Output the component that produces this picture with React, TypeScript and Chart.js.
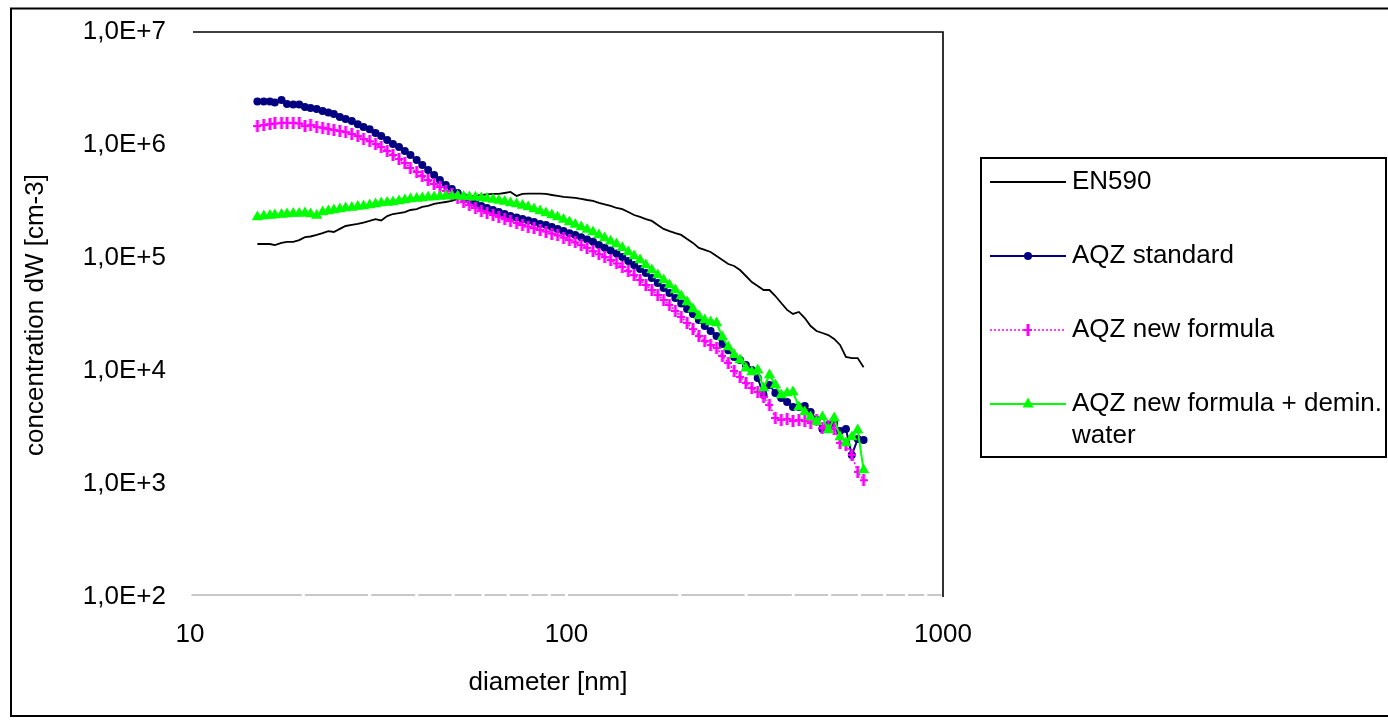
import React, { useEffect, useRef } from 'react';
import { Chart, registerables } from 'chart.js';

Chart.register(...registerables);

// diameter channels [nm]
const diameters = [
  15.1, 15.7, 16.3, 16.8, 17.5, 18.1, 18.8, 19.5, 20.2, 20.9,
  21.7, 22.5, 23.3, 24.1, 25.0, 25.9, 26.9, 27.9, 28.9, 30.0,
  31.1, 32.2, 33.4, 34.6, 35.9, 37.2, 38.5, 40.0, 41.4, 42.9,
  44.5, 46.1, 47.8, 49.6, 51.4, 53.3, 55.2, 57.3, 59.4, 61.5,
  63.8, 66.1, 68.5, 71.0, 73.7, 76.4, 79.1, 82.0, 85.1, 88.2,
  91.4, 94.7, 98.2, 101.8, 105.5, 109.4, 113.4, 117.6, 121.9, 126.3,
  131.0, 135.8, 140.7, 145.9, 151.2, 156.8, 162.5, 168.5, 174.7, 181.1,
  187.7, 194.6, 201.7, 209.1, 216.7, 224.7, 232.9, 241.4, 250.3, 259.5,
  269.0, 278.8, 289.0, 299.6, 310.6, 322.0, 333.8, 346.0, 358.7, 371.8,
  385.4, 399.5, 414.2, 429.4, 445.1, 461.4, 478.3, 495.8, 514.0, 532.8,
  552.3, 572.5, 593.5, 615.3,
];

const en590 = [
  1.33e5, 1.33e5, 1.33e5, 1.30e5, 1.36e5, 1.39e5, 1.39e5, 1.44e5, 1.53e5, 1.55e5,
  1.60e5, 1.66e5, 1.73e5, 1.70e5, 1.81e5, 1.92e5, 1.96e5, 2.00e5, 2.06e5, 2.13e5,
  2.21e5, 2.15e5, 2.35e5, 2.45e5, 2.50e5, 2.55e5, 2.66e5, 2.71e5, 2.83e5, 2.89e5,
  3.01e5, 3.07e5, 3.13e5, 3.20e5, 3.33e5, 3.44e5, 3.51e5, 3.54e5, 3.61e5, 3.65e5,
  3.69e5, 3.69e5, 3.76e5, 3.84e5, 3.54e5, 3.69e5, 3.72e5, 3.72e5, 3.72e5, 3.69e5,
  3.61e5, 3.54e5, 3.47e5, 3.44e5, 3.40e5, 3.33e5, 3.26e5, 3.20e5, 3.07e5, 2.98e5,
  2.89e5, 2.77e5, 2.71e5, 2.55e5, 2.40e5, 2.31e5, 2.21e5, 2.13e5, 1.96e5, 1.81e5,
  1.73e5, 1.66e5, 1.60e5, 1.47e5, 1.36e5, 1.23e5, 1.18e5, 1.13e5, 1.04e5, 9.60e4,
  8.85e4, 8.50e4, 7.83e4, 6.93e4, 6.13e4, 5.65e4, 5.21e4, 5.21e4, 4.61e4, 4.00e4,
  3.47e4, 3.20e4, 3.33e4, 2.94e4, 2.50e4, 2.26e4, 2.17e4, 2.08e4, 1.92e4, 1.70e4,
  1.33e4, 1.30e4, 1.30e4, 1.08e4,
];

const aqzStandard = [
  2.43e6, 2.43e6, 2.43e6, 2.38e6, 2.50e6, 2.31e6, 2.28e6, 2.28e6, 2.17e6, 2.13e6,
  2.08e6, 2.00e6, 1.94e6, 1.88e6, 1.77e6, 1.70e6, 1.63e6, 1.53e6, 1.44e6, 1.375e6,
  1.28e6, 1.20e6, 1.11e6, 1.02e6, 9.6e5, 8.85e5, 8.16e5, 7.37e5, 6.65e5, 6.01e5,
  5.43e5, 4.90e5, 4.43e5, 4.08e5, 3.76e5, 3.47e5, 3.26e5, 3.07e5, 2.89e5, 2.77e5,
  2.66e5, 2.55e5, 2.45e5, 2.35e5, 2.28e5, 2.21e5, 2.15e5, 2.08e5, 2.00e5, 1.96e5,
  1.88e5, 1.81e5, 1.73e5, 1.66e5, 1.60e5, 1.53e5, 1.455e5, 1.39e5, 1.30e5, 1.23e5,
  1.165e5, 1.095e5, 1.02e5, 9.41e4, 8.67e4, 7.99e4, 7.37e4, 6.65e4, 6.01e4, 5.43e4,
  4.90e4, 4.43e4, 3.96e4, 3.54e4, 3.20e4, 2.83e4, 2.50e4, 2.26e4, 2.04e4, 1.73e4,
  1.53e4, 1.33e4, 1.25e4, 1.13e4, 1.02e4, 8.67e3, 6.13e3, 7.52e3, 6.39e3, 5.77e3,
  5.32e3, 4.80e3, 4.80e3, 4.90e3, 4.34e3, 3.69e3, 3.07e3, 3.33e3, 3.47e3, 2.94e3,
  3.07e3, 1.81e3, 2.50e3, 2.45e3,
];

const aqzNewFormula = [
  1.47e6, 1.50e6, 1.53e6, 1.55e6, 1.57e6, 1.57e6, 1.57e6, 1.55e6, 1.47e6, 1.50e6,
  1.44e6, 1.42e6, 1.39e6, 1.36e6, 1.33e6, 1.30e6, 1.25e6, 1.20e6, 1.13e6, 1.08e6,
  1.02e6, 9.60e5, 8.85e5, 8.16e5, 7.52e5, 6.93e5, 6.26e5, 5.77e5, 5.32e5, 4.90e5,
  4.52e5, 4.25e5, 3.92e5, 3.69e5, 3.40e5, 3.13e5, 2.94e5, 2.77e5, 2.61e5, 2.50e5,
  2.40e5, 2.31e5, 2.21e5, 2.13e5, 2.04e5, 1.96e5, 1.90e5, 1.84e5, 1.77e5, 1.715e5,
  1.645e5, 1.585e5, 1.515e5, 1.44e5, 1.375e5, 1.30e5, 1.23e5, 1.15e5, 1.08e5, 1.02e5,
  9.60e4, 8.94e4, 8.33e4, 7.67e4, 7.07e4, 6.39e4, 5.77e4, 5.21e4, 4.71e4, 4.25e4,
  3.84e4, 3.40e4, 3.01e4, 2.66e4, 2.35e4, 2.04e4, 1.84e4, 1.70e4, 1.60e4, 1.36e4,
  1.18e4, 1.00e4, 8.85e3, 7.83e3, 7.07e3, 6.52e3, 5.89e3, 5.00e3, 3.84e3, 3.69e3,
  3.76e3, 3.61e3, 3.69e3, 3.61e3, 3.47e3, 3.69e3, 3.13e3, 3.26e3, 3.07e3, 2.31e3,
  2.21e3, 1.81e3, 1.28e3, 1.08e3,
];

const aqzNewFormulaDemin = [
  2.31e5, 2.35e5, 2.38e5, 2.40e5, 2.43e5, 2.45e5, 2.48e5, 2.48e5, 2.50e5, 2.45e5,
  2.38e5, 2.55e5, 2.61e5, 2.66e5, 2.71e5, 2.77e5, 2.80e5, 2.86e5, 2.89e5, 2.94e5,
  3.01e5, 3.07e5, 3.10e5, 3.13e5, 3.20e5, 3.26e5, 3.33e5, 3.37e5, 3.40e5, 3.44e5,
  3.47e5, 3.51e5, 3.54e5, 3.54e5, 3.54e5, 3.51e5, 3.47e5, 3.44e5, 3.40e5, 3.37e5,
  3.30e5, 3.23e5, 3.17e5, 3.07e5, 3.01e5, 2.92e5, 2.83e5, 2.71e5, 2.61e5, 2.50e5,
  2.40e5, 2.31e5, 2.19e5, 2.08e5, 1.98e5, 1.88e5, 1.79e5, 1.70e5, 1.60e5, 1.50e5,
  1.41e5, 1.33e5, 1.23e5, 1.13e5, 1.04e5, 9.60e4, 8.67e4, 7.83e4, 7.07e4, 6.39e4,
  5.77e4, 5.21e4, 4.61e4, 4.08e4, 3.54e4, 3.07e4, 2.83e4, 2.71e4, 2.66e4, 2.00e4,
  1.63e4, 1.39e4, 1.25e4, 1.06e4, 9.80e3, 1.02e4, 7.07e3, 9.22e3, 7.52e3, 6.13e3,
  6.39e3, 6.52e3, 4.80e3, 4.34e3, 3.92e3, 3.54e3, 3.92e3, 3.01e3, 3.84e3, 2.61e3,
  2.31e3, 2.61e3, 3.01e3, 1.33e3,
];

const xTicks = [10, 100, 1000];
const yTicks = [1e2, 1e3, 1e4, 1e5, 1e6, 1e7];
const seriesLabels = ['EN590', 'AQZ standard', 'AQZ new formula', 'AQZ new formula + demin.', 'water'];
const xTitle = 'diameter [nm]';
const yTitle = 'concentration dW [cm-3]';

const FONT_FAMILY = '"Liberation Sans", Arial, sans-serif';
const FONT_SIZE = 26;
const fontStr = `${FONT_SIZE}px ${FONT_FAMILY}`;

const NAVY = '#000080';
const MAGENTA = '#FF00FF';
const GREEN = '#00FF00';

function makePlusMarker(): HTMLCanvasElement {
  const c = document.createElement('canvas');
  c.width = 8;
  c.height = 12;
  const g = c.getContext('2d')!;
  g.fillStyle = MAGENTA;
  g.fillRect(2.5, 0, 3, 12);
  g.fillRect(0, 5, 8, 2);
  return c;
}

const pts = (arr: number[]) => diameters.map((d, i) => ({ x: d, y: arr[i] }));

export default function App() {
  const ref = useRef<HTMLCanvasElement | null>(null);

  useEffect(() => {
    const canvas = ref.current;
    if (!canvas) return;
    const plus = makePlusMarker();

    const decor = {
      id: 'decor',
      beforeDatasetsDraw(chart: any) {
        const { ctx, chartArea: a, scales } = chart;
        const xs = scales.x;
        ctx.save();
        const marks: number[] = [];
        for (const dec of [10, 100]) for (let m = 1; m < 10; m++) marks.push(dec * m);
        marks.push(1000);
        ctx.strokeStyle = '#c8c8c8';
        ctx.lineWidth = 2;
        for (let i = 0; i < marks.length - 1; i++) {
          const p0 = xs.getPixelForValue(marks[i]) + 1.5;
          const p1 = xs.getPixelForValue(marks[i + 1]) - 1.5;
          ctx.beginPath();
          ctx.moveTo(p0, a.bottom - 2);
          ctx.lineTo(p1, a.bottom - 2);
          ctx.stroke();
        }
        ctx.strokeStyle = '#000';
        ctx.lineWidth = 1.6;
        ctx.beginPath();
        ctx.moveTo(a.left + 3, a.top);
        ctx.lineTo(a.right, a.top);
        ctx.lineTo(a.right, a.bottom);
        ctx.stroke();
        ctx.restore();
      },
      afterDraw(chart: any) {
        const { ctx } = chart;
        ctx.save();
        ctx.strokeStyle = '#000';
        ctx.lineWidth = 2;
        ctx.strokeRect(11, 8.5, 1400, 707.5);
        ctx.fillStyle = '#000';
        ctx.font = fontStr;
        ctx.textAlign = 'center';
        ctx.textBaseline = 'middle';
        ctx.fillText(xTitle, 548, 683);
        ctx.save();
        ctx.translate(36, 315);
        ctx.rotate(-Math.PI / 2);
        ctx.fillText(yTitle, 0, 0);
        ctx.restore();
        // legend
        ctx.lineWidth = 2;
        ctx.strokeRect(981, 158, 405, 299);
        const lx0 = 990, lx1 = 1066, mx = 1028, tx = 1072;
        const rows = [182, 256, 330, 404];
        ctx.textAlign = 'left';
        ctx.strokeStyle = '#000';
        ctx.lineWidth = 1.8;
        ctx.beginPath(); ctx.moveTo(lx0, rows[0]); ctx.lineTo(lx1, rows[0]); ctx.stroke();
        ctx.strokeStyle = NAVY; ctx.lineWidth = 2;
        ctx.beginPath(); ctx.moveTo(lx0, rows[1]); ctx.lineTo(lx1, rows[1]); ctx.stroke();
        ctx.fillStyle = NAVY;
        ctx.beginPath(); ctx.arc(mx, rows[1], 4, 0, Math.PI * 2); ctx.fill();
        ctx.strokeStyle = MAGENTA; ctx.lineWidth = 1.5; ctx.setLineDash([2, 2]);
        ctx.beginPath(); ctx.moveTo(lx0, rows[2]); ctx.lineTo(lx1, rows[2]); ctx.stroke();
        ctx.setLineDash([]);
        ctx.drawImage(plus, mx - 4, rows[2] - 6);
        ctx.strokeStyle = GREEN; ctx.lineWidth = 2;
        ctx.beginPath(); ctx.moveTo(lx0, rows[3]); ctx.lineTo(lx1, rows[3]); ctx.stroke();
        ctx.fillStyle = GREEN;
        ctx.beginPath();
        ctx.moveTo(mx, rows[3] - 6.5);
        ctx.lineTo(mx + 5.5, rows[3] + 3.5);
        ctx.lineTo(mx - 5.5, rows[3] + 3.5);
        ctx.closePath(); ctx.fill();
        ctx.fillStyle = '#000';
        ctx.font = fontStr;
        ctx.textBaseline = 'middle';
        ctx.fillText(seriesLabels[0], tx, rows[0]);
        ctx.fillText(seriesLabels[1], tx, rows[1]);
        ctx.fillText(seriesLabels[2], tx, rows[2]);
        ctx.fillText(seriesLabels[3], tx, rows[3]);
        ctx.fillText(seriesLabels[4], tx, rows[3] + 32);
        ctx.restore();
      },
    };

    const chart = new Chart(canvas, {
      type: 'line',
      data: {
        datasets: [
          {
            label: seriesLabels[0],
            data: pts(en590),
            borderColor: '#000',
            borderWidth: 1.8,
            pointRadius: 0,
            order: 3,
          },
          {
            label: seriesLabels[1],
            data: pts(aqzStandard),
            borderColor: NAVY,
            backgroundColor: NAVY,
            borderWidth: 2,
            pointStyle: 'circle',
            pointRadius: 4,
            pointBorderWidth: 0,
            order: 2,
          },
          {
            label: seriesLabels[2],
            data: pts(aqzNewFormula),
            borderColor: MAGENTA,
            backgroundColor: MAGENTA,
            borderWidth: 1.5,
            borderDash: [2, 2],
            pointStyle: plus,
            pointRadius: 5,
            order: 1,
          },
          {
            label: seriesLabels[3] + ' ' + seriesLabels[4],
            data: pts(aqzNewFormulaDemin),
            borderColor: GREEN,
            backgroundColor: GREEN,
            borderWidth: 2,
            pointStyle: 'triangle',
            pointRadius: 6.5,
            pointBorderWidth: 0,
            order: 0,
          },
        ],
      },
      options: {
        animation: false,
        responsive: false,
        maintainAspectRatio: false,
        devicePixelRatio: 1,
        events: [],
        layout: { padding: { left: 0, top: 32, right: 445, bottom: 0 } },
        plugins: {
          legend: { display: false },
          tooltip: { enabled: false },
          title: { display: false },
        },
        elements: { line: { tension: 0 } },
        scales: {
          x: {
            type: 'logarithmic',
            min: 10,
            max: 1000,
            position: 'bottom',
            grid: { display: false, drawTicks: false },
            border: { display: false },
            afterBuildTicks: (s: any) => { s.ticks = xTicks.map((v) => ({ value: v })); },
            afterFit: (s: any) => { s.height = 126; s.paddingLeft = 0; s.paddingRight = 0; },
            ticks: {
              autoSkip: false,
              maxRotation: 0,
              padding: 22,
              color: '#000',
              font: { family: FONT_FAMILY, size: FONT_SIZE },
              callback: (v: any) => String(v),
            },
          },
          y: {
            type: 'logarithmic',
            min: 1e2,
            max: 1e7,
            position: 'left',
            grid: { display: false, drawTicks: false },
            border: { display: false },
            afterBuildTicks: (s: any) => { s.ticks = yTicks.map((v) => ({ value: v })); },
            afterFit: (s: any) => { s.width = 190; s.paddingTop = 0; s.paddingBottom = 0; },
            ticks: {
              autoSkip: false,
              padding: 24,
              color: '#000',
              font: { family: FONT_FAMILY, size: FONT_SIZE },
              callback: (v: any) => '1,0E+' + Math.round(Math.log10(Number(v))),
            },
          },
        },
      },
      plugins: [decor],
    } as any);

    return () => chart.destroy();
  }, []);

  return (
    <div style={{ position: 'absolute', left: 0, top: 0, width: 1388, height: 723, background: '#fff' }}>
      <canvas ref={ref} width={1388} height={723} style={{ display: 'block' }} />
    </div>
  );
}
